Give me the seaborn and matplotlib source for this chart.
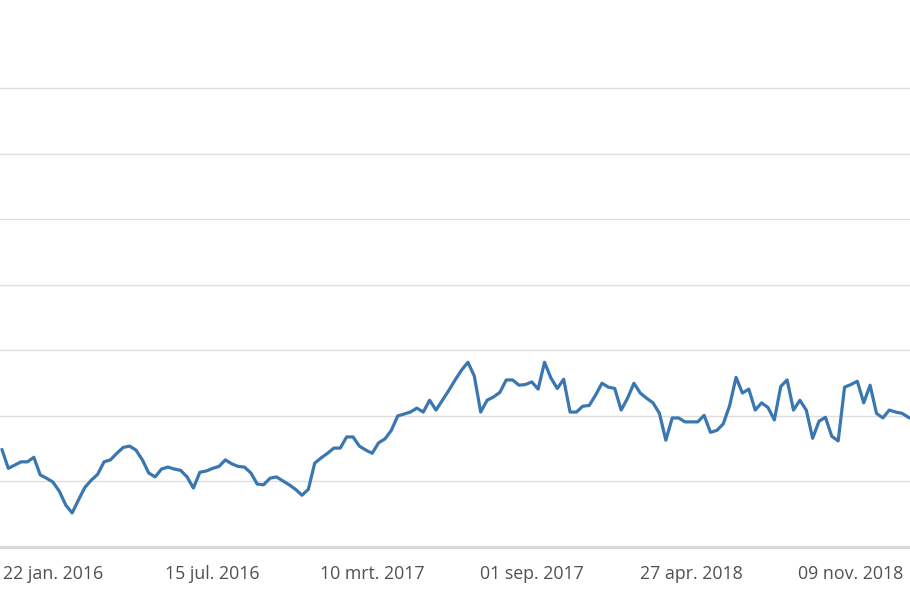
import numpy as np
import pandas as pd
import matplotlib
matplotlib.use("Agg")
import matplotlib.pyplot as plt
import seaborn as sns

# Values, one per point (gridline step = 1 unit)
values = [
    1.49, 1.20, 1.25, 1.30, 1.30, 1.37, 1.10, 1.05, 0.99, 0.85, 0.64, 0.52, 0.72,
    0.91, 1.02, 1.11, 1.30, 1.33, 1.43, 1.52, 1.54, 1.48, 1.33, 1.13, 1.07,
    1.19, 1.22, 1.19, 1.17, 1.07, 0.90, 1.14, 1.16, 1.20, 1.23, 1.33, 1.27,
    1.23, 1.22, 1.13, 0.96, 0.95, 1.05, 1.07, 1.01, 0.95, 0.88, 0.79, 0.88,
    1.28, 1.36, 1.43, 1.51, 1.51, 1.68, 1.68, 1.54, 1.48, 1.43, 1.59, 1.65,
    1.78, 2.00, 2.03, 2.06, 2.12, 2.06, 2.24, 2.09, 2.24, 2.39, 2.55, 2.70, 2.82, 2.61,
    2.06, 2.24, 2.29, 2.36, 2.55, 2.55, 2.47, 2.48, 2.52, 2.41, 2.82, 2.58,
    2.42, 2.56, 2.06, 2.06, 2.15, 2.16, 2.32, 2.50, 2.44, 2.42,
    2.09, 2.27, 2.50, 2.35, 2.27, 2.20, 2.04, 1.63, 1.97, 1.97, 1.91, 1.91,
    1.91, 2.01, 1.75, 1.78, 1.88, 2.16, 2.59, 2.35, 2.41,
    2.09, 2.20, 2.13, 1.94, 2.45, 2.55, 2.09, 2.24, 2.09, 1.66, 1.92, 1.98,
    1.69, 1.62, 2.44, 2.48, 2.53, 2.20, 2.47, 2.04, 1.97, 2.09, 2.06, 2.04, 1.98, 1.94,
]
tick_labels = ["22 jan. 2016", "15 jul. 2016", "10 mrt. 2017",
               "01 sep. 2017", "27 apr. 2018", "09 nov. 2018"]
label_start = 8
label_every = 25

df = pd.DataFrame({"idx": np.arange(len(values)), "value": values})

sns.set_style("white")
plt.rcParams["font.family"] = ["Open Sans", "DejaVu Sans"]

fig = plt.figure(figsize=(9.1, 5.96), dpi=100)
ax = fig.add_axes([0, 49 / 596, 1, 547 / 596])

sns.lineplot(data=df, x="idx", y="value", ax=ax, color="#3a77b1",
             linewidth=2.3, zorder=3)

ax.set_xlim(-0.3, 142.25)
ax.set_ylim(0, 8.35)
ax.set_yticks(range(1, 8))
ax.set_yticklabels([])
ax.yaxis.grid(True, color="#dedede", linewidth=1.0)
ax.xaxis.grid(False)

ax.set_xticks([label_start + i * label_every for i in range(len(tick_labels))])
ax.set_xticklabels(tick_labels, fontsize=12.8, color="#505050")
ax.tick_params(axis="x", length=0, pad=13)
ax.tick_params(axis="y", length=0)
ax.set_xlabel("")
ax.set_ylabel("")

for side in ["top", "left", "right"]:
    ax.spines[side].set_visible(False)
ax.spines["bottom"].set_color("#d9d9d9")
ax.spines["bottom"].set_linewidth(2.5)

fig.savefig("out.png", dpi=100)
